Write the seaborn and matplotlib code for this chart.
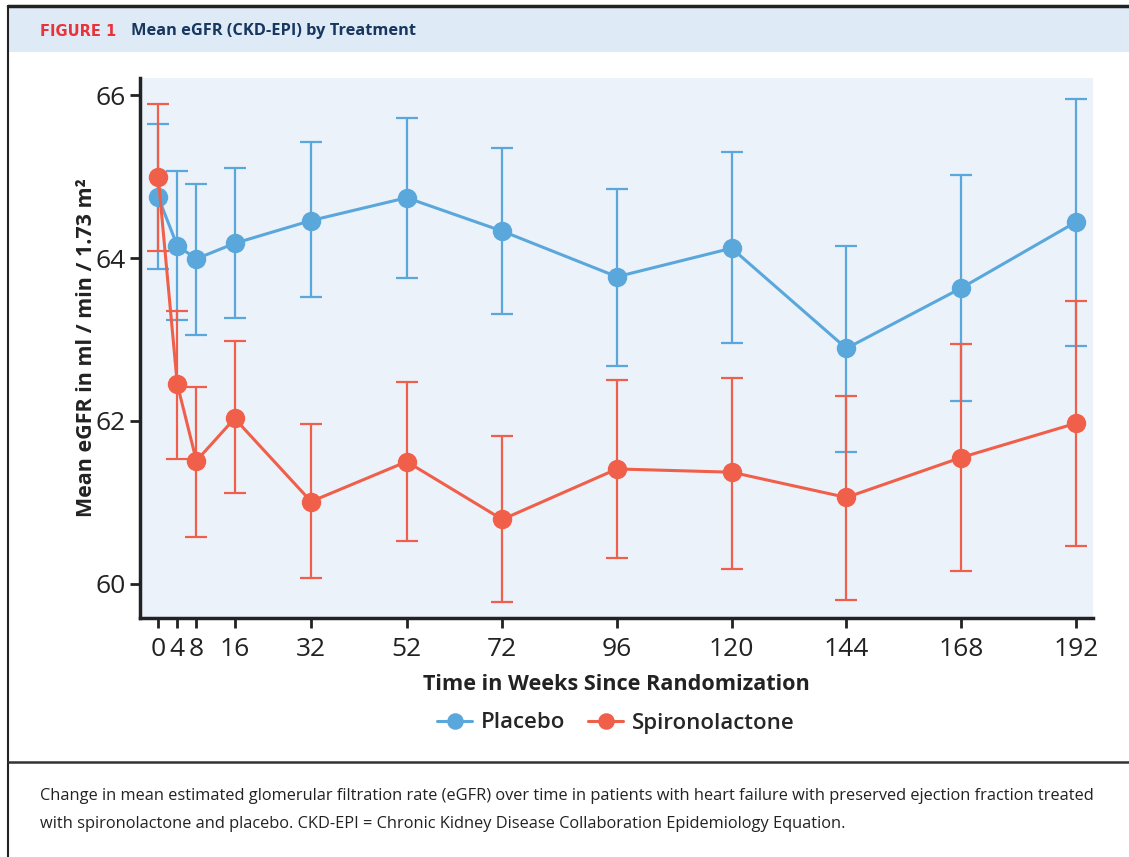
import pandas as pd
import matplotlib.pyplot as plt
import seaborn as sns
from matplotlib.lines import Line2D
from matplotlib.patches import Rectangle

weeks = [0, 4, 8, 16, 32, 52, 72, 96, 120, 144, 168, 192]

placebo_mean = [64.75, 64.15, 63.99, 64.18, 64.46, 64.74, 64.33, 63.77, 64.12, 62.89, 63.63, 64.44]
placebo_hi = [65.65, 65.07, 64.91, 65.10, 65.43, 65.72, 65.35, 64.85, 65.30, 64.15, 65.02, 65.95]
placebo_lo = [63.86, 63.24, 63.06, 63.26, 63.52, 63.75, 63.31, 62.68, 62.96, 61.62, 62.25, 62.92]

spiro_mean = [65.00, 62.45, 61.51, 62.03, 61.01, 61.50, 60.79, 61.41, 61.37, 61.06, 61.55, 61.97]
spiro_hi = [65.89, 63.35, 62.42, 62.98, 61.96, 62.48, 61.81, 62.50, 62.53, 62.31, 62.95, 63.47]
spiro_lo = [64.09, 61.53, 60.58, 61.11, 60.07, 60.53, 59.78, 60.32, 60.18, 59.80, 60.16, 60.47]

groups = ['Placebo', 'Spironolactone']
colors = {'Placebo': '#5aa7dc', 'Spironolactone': '#f05f49'}

df = pd.concat([
    pd.DataFrame({'week': weeks, 'egfr': placebo_mean, 'lo': placebo_lo, 'hi': placebo_hi, 'group': 'Placebo'}),
    pd.DataFrame({'week': weeks, 'egfr': spiro_mean, 'lo': spiro_lo, 'hi': spiro_hi, 'group': 'Spironolactone'}),
])

sns.set_style('white')
plt.rcParams['font.family'] = ['Open Sans', 'DejaVu Sans']

fig = plt.figure(figsize=(11.29, 8.57), dpi=100)

# page frame, header band, caption separator
fig.add_artist(Rectangle((8 / 1129, 1 - 52 / 857), 1, 46 / 857, transform=fig.transFigure,
                         facecolor='#deeaf6', edgecolor='none', zorder=0))
fig.add_artist(Line2D([8 / 1129, 1], [1 - 6 / 857, 1 - 6 / 857], color='#222222', lw=2.5))
fig.add_artist(Line2D([8 / 1129, 8 / 1129], [0, 1 - 6 / 857], color='#222222', lw=1.5))
fig.add_artist(Line2D([8 / 1129, 1], [1 - 762 / 857, 1 - 762 / 857], color='#333333', lw=1.8))

fig.text(40 / 1129, 1 - 31 / 857, 'FIGURE 1', color='#e8323c', fontsize=10.5,
         fontweight='bold', family=['DejaVu Sans'], va='center')
fig.text(131 / 1129, 1 - 31 / 857, 'Mean eGFR (CKD-EPI) by Treatment', color='#17375e',
         fontsize=11.8, fontweight='bold', va='center')

fig.text(40 / 1129, 1 - 796 / 857,
         'Change in mean estimated glomerular filtration rate (eGFR) over time in patients with heart failure '
         'with preserved ejection fraction treated', fontsize=11.8, color='#222222', va='center')
fig.text(40 / 1129, 1 - 824 / 857,
         'with spironolactone and placebo. CKD-EPI = Chronic Kidney Disease Collaboration Epidemiology Equation.',
         fontsize=11.8, color='#222222', va='center')

ax = fig.add_axes([140 / 1129, 1 - 618 / 857, (1093 - 140) / 1129, (618 - 78) / 857])
ax.set_facecolor('#ebf2fa')

for g in groups:
    d = df[df.group == g]
    ax.errorbar(d.week, d.egfr, yerr=[d.egfr - d.lo, d.hi - d.egfr], fmt='none',
                ecolor=colors[g], elinewidth=1.6, capsize=8, capthick=1.6, zorder=2)

sns.lineplot(data=df, x='week', y='egfr', hue='group', palette=colors, hue_order=groups,
             marker='o', markersize=14, markeredgewidth=0, linewidth=2.2, ax=ax, zorder=3)

ax.set_xlim(-3.8, 195.6)
ax.set_ylim(59.58, 66.21)
ax.set_xticks(weeks)
ax.set_xticklabels([str(w) for w in weeks])
ax.set_yticks([60, 62, 64, 66])

for side in ['top', 'right']:
    ax.spines[side].set_visible(False)
for side in ['left', 'bottom']:
    ax.spines[side].set_color('#222222')
    ax.spines[side].set_linewidth(2.5)
ax.tick_params(axis='both', bottom=True, left=True, direction='out', length=7, width=2,
               color='#222222', labelsize=19, labelcolor='#222222', pad=3)
ax.tick_params(axis='x', pad=6.6)

ax.set_xlabel('Time in Weeks Since Randomization', fontsize=15.6, fontweight='bold',
              color='#222222', labelpad=9)
ax.set_ylabel('Mean eGFR in ml / min / 1.73 m²', fontsize=15.5, fontweight='bold',
              color='#222222', labelpad=-1)

handles, labels = ax.get_legend_handles_labels()
ax.legend(handles, labels, loc='center', bbox_to_anchor=(616 / 1129, 1 - 723 / 857),
          bbox_transform=fig.transFigure, ncol=2, frameon=False,
          prop={'size': 16, 'weight': 'semibold'}, markerscale=0.85,
          handlelength=1.6, handletextpad=0.4, columnspacing=1.0)

fig.savefig('out.png', dpi=100)
